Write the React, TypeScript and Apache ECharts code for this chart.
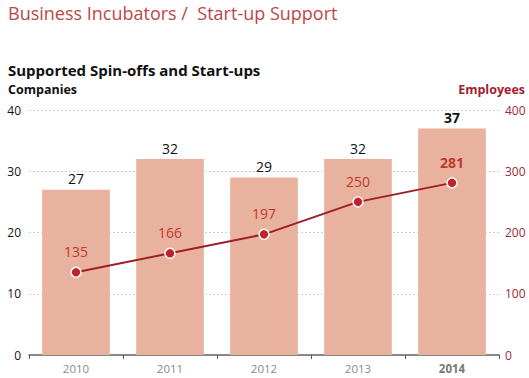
import React, { useEffect, useRef } from "react";
import * as echarts from "echarts";

const years = ["2010", "2011", "2012", "2013", "2014"];
const companies = [27, 32, 29, 32, 37];
const employees = [135, 166, 197, 250, 281];
const leftTicks = [0, 10, 20, 30, 40];
const rightTicks = [0, 100, 200, 300, 400];

const FONT = "'Open Sans', 'Noto Sans', sans-serif";

export default function App() {
  const ref = useRef<HTMLDivElement>(null);
  useEffect(() => {
    if (!ref.current) return;
    const chart = echarts.init(ref.current, undefined, { renderer: "svg" });
    const last = years.length - 1;
    chart.setOption({
      animation: false,
      textStyle: { fontFamily: FONT },
      graphic: [
        { type: "text", left: 8, top: 4, style: { text: "Business Incubators /  Start-up Support", fontSize: 18, fill: "#bb4844", fontFamily: FONT } },
        { type: "text", left: 8, top: 62, style: { text: "Supported Spin-offs and Start-ups", fontSize: 15, fontWeight: "bold", fill: "#111", fontFamily: FONT } },
        { type: "text", left: 8, top: 83, style: { text: "Companies", fontSize: 12.5, fontWeight: "bold", fill: "#111", fontFamily: FONT } },
        { type: "text", right: 4, top: 83, style: { text: "Employees", fontSize: 12.5, fontWeight: "bold", fill: "#a3202c", fontFamily: FONT } },
      ],
      grid: { left: 29, right: 30, top: 110, bottom: 23 },
      xAxis: {
        type: "category",
        data: years,
        axisLine: { lineStyle: { color: "#666", width: 1.5 } },
        axisTick: { show: true, length: 4, lineStyle: { color: "#555" } },
        axisLabel: {
          color: "#8a8a8a",
          fontSize: 11.5,
          margin: 7,
          formatter: (v: string, i: number) => (i === last ? "{b|" + v + "}" : v),
          rich: { b: { fontWeight: "bold", color: "#777", fontSize: 11.5 } },
        },
      },
      yAxis: [
        {
          type: "value",
          min: leftTicks[0],
          max: leftTicks[leftTicks.length - 1],
          interval: 10,
          axisLine: { show: false },
          axisTick: { show: false },
          axisLabel: { color: "#111", fontSize: 12, margin: 8 },
          splitLine: { show: true, lineStyle: { color: "#d0d0d0", type: [2, 2], width: 1 } },
        },
        {
          type: "value",
          min: rightTicks[0],
          max: rightTicks[rightTicks.length - 1],
          interval: 100,
          axisLine: { show: false },
          axisTick: { show: false },
          axisLabel: { color: "#9e2a35", fontSize: 12, margin: 6 },
          splitLine: { show: false },
        },
      ],
      series: [
        {
          type: "bar",
          data: companies.map((v, i) => ({
            value: v,
            label: i === last ? { fontWeight: "bold" } : undefined,
          })),
          barCategoryGap: "28%",
          itemStyle: { color: "#e9b29e" },
          label: { show: true, position: "top", distance: 4, color: "#111", fontSize: 14, fontFamily: FONT },
          z: 2,
        },
        {
          type: "line",
          yAxisIndex: 1,
          data: employees.map((v, i) => ({
            value: v,
            label: i === last ? { fontWeight: "bold" } : undefined,
          })),
          symbol: "circle",
          symbolSize: 10,
          lineStyle: { color: "#9c1f24", width: 2 },
          itemStyle: { color: "#c0232b", borderColor: "#fff", borderWidth: 1.5 },
          label: { show: true, position: "top", distance: 8, color: "#c0392b", fontSize: 14, fontFamily: FONT },
          z: 5,
        },
      ],
    });
    return () => chart.dispose();
  }, []);
  return <div ref={ref} style={{ width: 529, height: 378, position: "absolute", left: 0, top: 0 }} />;
}
